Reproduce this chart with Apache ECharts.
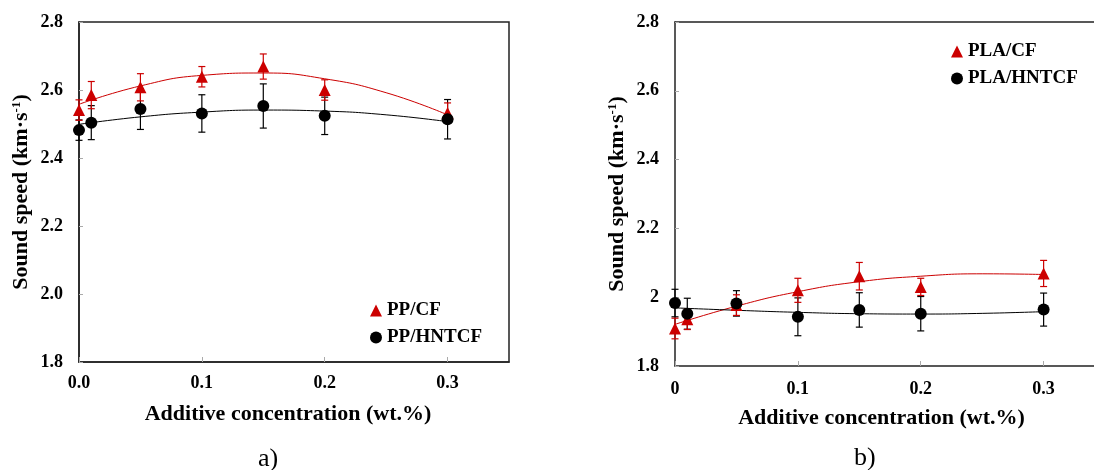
<!DOCTYPE html>
<html>
<head>
<meta charset="utf-8">
<script src="https://cdn.jsdelivr.net/npm/echarts@6/dist/echarts.min.js"></script>
<style>
  html, body { margin: 0; padding: 0; background: #fff; }
  #chart { width: 1094px; height: 470px; }
</style>
</head>
<body>
<div id="chart"></div>
<script>
// concentrations (wt.%)
const xs = [0, 0.01, 0.05, 0.1, 0.15, 0.2, 0.3];
// a) PP
const ppCF = [2.541, 2.585, 2.608, 2.639, 2.669, 2.600, 2.532];
const ppCFErr = [0.03, 0.04, 0.04, 0.03, 0.037, 0.03, 0.03];
const ppHNTCF = [2.482, 2.504, 2.544, 2.531, 2.553, 2.524, 2.514];
const ppHNTCFErr = [0.03, 0.05, 0.06, 0.055, 0.065, 0.055, 0.058];
// b) PLA
const plaCF = [1.909, 1.936, 1.977, 2.020, 2.061, 2.030, 2.069];
const plaCFErr = [0.03, 0.03, 0.03, 0.035, 0.04, 0.025, 0.038];
const plaHNTCF = [1.983, 1.952, 1.982, 1.943, 1.963, 1.952, 1.964];
const plaHNTCFErr = [0.04, 0.045, 0.037, 0.055, 0.05, 0.05, 0.048];
// trend lines
const fitX = [0, 0.05, 0.1, 0.15, 0.2, 0.25, 0.3];
const ppCFFit = [2.558, 2.612, 2.643, 2.650, 2.633, 2.592, 2.527];
const ppHNTCFFit = [2.499, 2.521, 2.535, 2.541, 2.538, 2.527, 2.507];
const plaCFFit = [1.921, 1.974, 2.016, 2.045, 2.061, 2.068, 2.066];
const plaHNTCFFit = [1.969, 1.962, 1.956, 1.952, 1.951, 1.953, 1.958];

const RED = '#cc0000';
const FONT = "'Liberation Serif', 'Times New Roman', serif";
// panel b) runs past the right edge of the figure
const X_MAX_A = 0.35;
const X_MAX_B = 0.341;

const pairs = (xv, yv) => xv.map((x, i) => [x, yv[i]]);
const bars = (yv, ev) => xs.map((x, i) => [x, yv[i] - ev[i], yv[i] + ev[i]]);

function errorBar (color) {
  return function (params, api) {
    const x = api.value(0);
    const lo = api.coord([x, api.value(1)]);
    const hi = api.coord([x, api.value(2)]);
    const w = 3.5;
    const st = { stroke: color, lineWidth: 1.2 };
    return {
      type: 'group',
      children: [
        { type: 'line', shape: { x1: lo[0], y1: lo[1], x2: hi[0], y2: hi[1] }, style: st },
        { type: 'line', shape: { x1: lo[0] - w, y1: lo[1], x2: lo[0] + w, y2: lo[1] }, style: st },
        { type: 'line', shape: { x1: hi[0] - w, y1: hi[1], x2: hi[0] + w, y2: hi[1] }, style: st }
      ]
    };
  };
}

function xAxis (idx, max, fmt, margin, shift) {
  return {
    type: 'value', gridIndex: idx, min: 0, max: max, interval: 0.1,
    name: 'Additive concentration (wt.%)', nameLocation: 'middle', nameGap: 41,
    nameTextStyle: { fontFamily: FONT, fontWeight: 'bold', fontSize: 22, color: '#000', padding: [0, shift, 0, 0] },
    axisLine: { show: true, lineStyle: { color: '#222', width: 1.5 } },
    axisTick: { show: true, inside: true, length: 5, lineStyle: { color: '#aaa' } },
    axisLabel: { fontFamily: FONT, fontWeight: 'bold', fontSize: 18, color: '#000', margin: margin, showMaxLabel: false, formatter: fmt },
    splitLine: { show: false }
  };
}

function yAxis (idx, fmt) {
  return {
    type: 'value', gridIndex: idx, min: 1.8, max: 2.8, interval: 0.2,
    name: 'Sound speed (km·s{sup|-1})', nameLocation: 'middle', nameGap: 47, nameRotate: 90,
    nameTextStyle: {
      fontFamily: FONT, fontWeight: 'bold', fontSize: 22, color: '#000',
      rich: { sup: { fontFamily: FONT, fontWeight: 'bold', fontSize: 13, color: '#000', verticalAlign: 'top', lineHeight: 22 } }
    },
    axisLine: { show: true, lineStyle: { color: '#222', width: 1.5 } },
    axisTick: { show: true, inside: true, length: 4, lineStyle: { color: '#aaa' } },
    axisLabel: { fontFamily: FONT, fontWeight: 'bold', fontSize: 18, color: '#000', margin: 16, formatter: fmt },
    splitLine: { show: false }
  };
}

const chart = echarts.init(document.getElementById('chart'));

const fit = (name, idx, data, color) => ({
  name: name, type: 'line', xAxisIndex: idx, yAxisIndex: idx, data: data,
  smooth: true, showSymbol: false, symbol: 'none', z: 3,
  lineStyle: { color: color, width: 1 }, silent: true
});
const bar = (idx, data, color, z) => ({
  type: 'custom', xAxisIndex: idx, yAxisIndex: idx, data: data, z: z,
  renderItem: errorBar(color), encode: { x: 0, y: [1, 2] }, silent: true
});
const pts = (name, idx, data, symbol, color, z) => ({
  name: name, type: 'scatter', xAxisIndex: idx, yAxisIndex: idx, data: data,
  symbol: symbol, symbolSize: 12, z: z, itemStyle: { color: color, opacity: 1 }
});

const legendText = { fontFamily: FONT, fontWeight: 'bold', fontSize: 19, color: '#000' };

chart.setOption({
  animation: false,
  backgroundColor: '#fff',
  grid: [
    { left: 79, top: 22, width: 430, height: 340, show: true, borderColor: '#222', borderWidth: 1.5 },
    { left: 675, top: 22, right: 0, height: 344 }
  ],
  xAxis: [
    xAxis(0, X_MAX_A, v => v.toFixed(1), 12, 12),
    xAxis(1, X_MAX_B, v => (v === 0 ? '0' : v.toFixed(1)), 14, 6),
    // top frame line of panel b)
    {
      type: 'value', gridIndex: 1, position: 'top', min: 0, max: X_MAX_B,
      axisLine: { show: true, lineStyle: { color: '#222', width: 1.5 } },
      axisTick: { show: false }, axisLabel: { show: false }, splitLine: { show: false }
    }
  ],
  yAxis: [
    yAxis(0, v => v.toFixed(1)),
    yAxis(1, v => (Math.abs(v - 2) < 1e-9 ? '2' : v.toFixed(1)))
  ],
  legend: [
    {
      orient: 'vertical', left: 365, top: 296, itemWidth: 12, itemHeight: 12, itemGap: 8,
      selectedMode: false, textStyle: legendText,
      data: [{ name: 'PP/CF', icon: 'triangle' }, { name: 'PP/HNTCF', icon: 'circle' }]
    },
    {
      orient: 'vertical', left: 946, top: 37, itemWidth: 12, itemHeight: 12, itemGap: 8,
      selectedMode: false, textStyle: legendText,
      data: [{ name: 'PLA/CF', icon: 'triangle' }, { name: 'PLA/HNTCF', icon: 'circle' }]
    }
  ],
  series: [
    bar(0, bars(ppHNTCF, ppHNTCFErr), '#000', 2),
    bar(0, bars(ppCF, ppCFErr), RED, 2),
    fit('ppCFFit', 0, pairs(fitX, ppCFFit), RED),
    fit('ppHNTCFFit', 0, pairs(fitX, ppHNTCFFit), '#000'),
    pts('PP/CF', 0, pairs(xs, ppCF), 'triangle', RED, 4),
    pts('PP/HNTCF', 0, pairs(xs, ppHNTCF), 'circle', '#000', 5),

    bar(1, bars(plaHNTCF, plaHNTCFErr), '#000', 2),
    bar(1, bars(plaCF, plaCFErr), RED, 2),
    fit('plaCFFit', 1, pairs(fitX, plaCFFit), RED),
    fit('plaHNTCFFit', 1, pairs(fitX, plaHNTCFFit), '#000'),
    pts('PLA/CF', 1, pairs(xs, plaCF), 'triangle', RED, 4),
    pts('PLA/HNTCF', 1, pairs(xs, plaHNTCF), 'circle', '#000', 5)
  ],
  graphic: [
    { type: 'text', left: 258, top: 446, style: { text: 'a)', fontFamily: FONT, fontSize: 26, fill: '#000' } },
    { type: 'text', left: 854, top: 445, style: { text: 'b)', fontFamily: FONT, fontSize: 26, fill: '#000' } }
  ]
});
</script>
</body>
</html>
